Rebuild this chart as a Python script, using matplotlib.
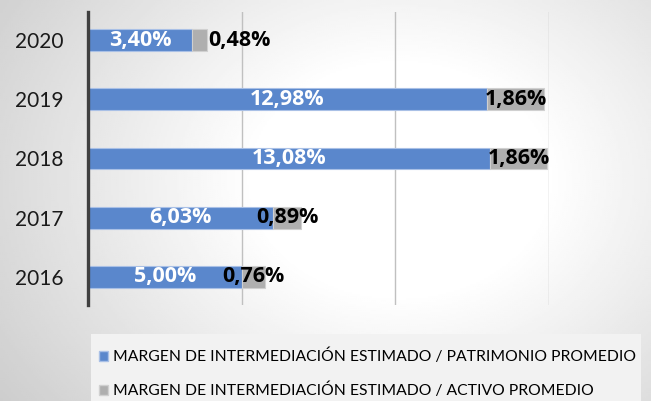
import numpy as np
import matplotlib
matplotlib.use('Agg')
import matplotlib.pyplot as plt
from matplotlib.patches import Patch, Rectangle

plt.rcParams['font.family'] = ['Lato', 'DejaVu Sans']

years = ["2016", "2017", "2018", "2019", "2020"]
patrimonio = [5.00, 6.03, 13.08, 12.98, 3.40]
activo = [0.76, 0.89, 1.86, 1.86, 0.48]
serie_names = ["MARGEN DE INTERMEDIACIÓN ESTIMADO / PATRIMONIO PROMEDIO",
               "MARGEN DE INTERMEDIACIÓN ESTIMADO / ACTIVO PROMEDIO"]

blue = "#5A87CC"
gray = "#AFAFAF"
lbl_font = ['Open Sans', 'DejaVu Sans']

fig = plt.figure(figsize=(6.51, 4.01), dpi=100)

# radial grey-to-white background
bg = fig.add_axes([0, 0, 1, 1], zorder=-10)
xx, yy = np.meshgrid(np.linspace(0, 651, 326), np.linspace(0, 401, 201))
r = np.hypot((xx - 400) / 420, (yy - 180) / 330)
shade = np.clip(1.0 - 0.24 * np.clip(r - 0.35, 0, None), 0.78, 1.0)
bg.imshow(shade, cmap="gray", vmin=0, vmax=1, extent=[0, 651, 401, 0], aspect="auto")
bg.set_xlim(0, 651)
bg.set_ylim(401, 0)
bg.axis("off")

# legend box
fig.patches.append(Rectangle((91 / 651, 0), 550 / 651, 67 / 401, transform=fig.transFigure,
                             facecolor="#f2f2f2", edgecolor="none", zorder=-5))

ax = fig.add_axes([88 / 651, 96 / 401, 461 / 651, 293 / 401])
ax.patch.set_alpha(0)

y = np.arange(len(years))
h = 0.37
ax.barh(y, patrimonio, height=h, color=blue, edgecolor="#a9c0e6", linewidth=0.8, zorder=3)
ax.barh(y, activo, left=patrimonio, height=h, color=gray, edgecolor="#d0d0d0", linewidth=0.8, zorder=3)

for i in range(len(years)):
    ax.text(patrimonio[i] / 2, y[i], ("%.2f%%" % patrimonio[i]).replace(".", ","),
            ha="center", va="center", color="white", fontsize=15.5, fontweight="bold",
            family=lbl_font, zorder=5)
    txt = ("%.2f%%" % activo[i]).replace(".", ",")
    if activo[i] < 0.5:
        # small segment: label placed just after the bar
        ax.text(patrimonio[i] + activo[i] + 0.03, y[i], txt, ha="left", va="center",
                color="black", fontsize=15.5, fontweight="bold", family=lbl_font, zorder=5)
    else:
        ax.text(patrimonio[i] + activo[i] / 2, y[i], txt, ha="center", va="center",
                color="black", fontsize=15.5, fontweight="bold", family=lbl_font, zorder=5)

ax.set_xlim(0, 15)
ax.set_ylim(-0.475, 4.475)
ax.set_xticks([0, 5, 10, 15])
ax.tick_params(axis="x", length=0, labelbottom=False)
ax.set_yticks(y)
ax.set_yticklabels(years, fontsize=15, color="#1a1a1a")
ax.tick_params(axis="y", length=0, pad=18)
ax.grid(axis="x", color="#c0c0c0", linewidth=1, zorder=0)
for s in ["top", "right", "bottom"]:
    ax.spines[s].set_visible(False)
ax.spines["left"].set_color("#404040")
ax.spines["left"].set_linewidth(2.4)
ax.spines["left"].set_zorder(6)

handles = [Patch(facecolor=blue, edgecolor="#a9c0e6"), Patch(facecolor=gray, edgecolor="#d0d0d0")]
fig.legend(handles, serie_names, loc="upper left", bbox_to_anchor=(99 / 651, 1 - 349 / 401),
           frameon=False, fontsize=11.35, handlelength=0.6, handleheight=0.6, handletextpad=0.3,
           labelspacing=1.15, borderpad=0, borderaxespad=0)

fig.savefig("out.png", dpi=100)
